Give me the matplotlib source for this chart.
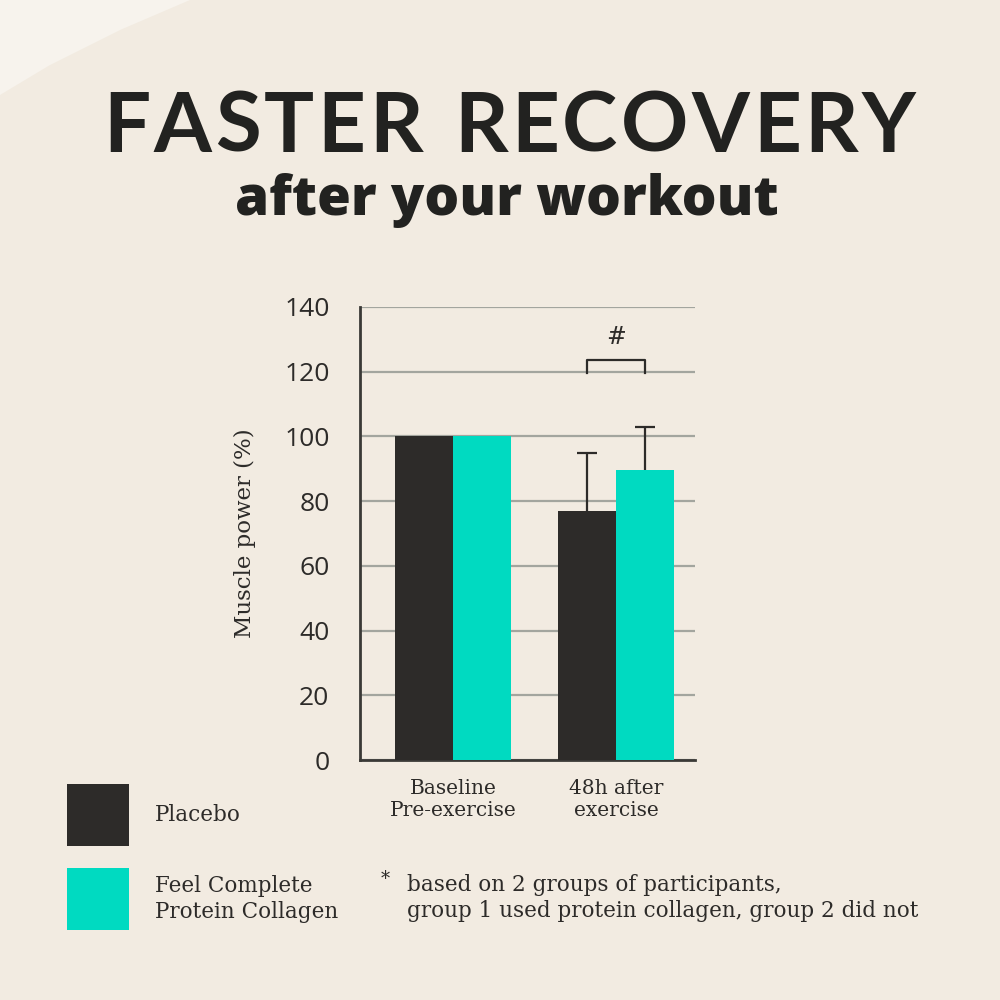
import numpy as np
import matplotlib.pyplot as plt
from matplotlib.patches import Polygon, Rectangle

# data
groups = ['Baseline\nPre-exercise', '48h after\nexercise']
placebo = [100, 77]
collagen = [100, 89.5]
placebo_err = [0, 18]
collagen_err = [0, 13.5]
yticks = [0, 20, 40, 60, 80, 100, 120, 140]
legend_labels = ['Placebo', 'Feel Complete\nProtein Collagen']

bg = '#f2ebe1'
dark = '#2d2b29'
teal = '#00dac1'
grid_c = '#a3a59e'

fig = plt.figure(figsize=(10, 10), dpi=100, facecolor=bg)

# light corner top-left
fig.patches.append(Polygon([[0, 1], [0.19, 1], [0.12, 0.97], [0.05, 0.935], [0, 0.905]],
                           closed=True, transform=fig.transFigure, facecolor='#f7f3ed',
                           edgecolor='none', zorder=0))

# title with letter spacing
def spaced_text(y, s, size, weight, x0, x1, family):
    r = fig.canvas.get_renderer()
    ws = []
    for ch in s:
        t = fig.text(0, 0, ch if ch != ' ' else 'I', fontsize=size, fontweight=weight, family=family)
        bb = t.get_window_extent(renderer=r)
        ws.append(bb.width / 1000)
        t.remove()
    total = sum(ws)
    gap = ((x1 - x0) - total) / (len(s) - 1)
    x = x0
    for ch, w in zip(s, ws):
        if ch != ' ':
            fig.text(x, y, ch, fontsize=size, fontweight=weight, family=family,
                     color='#222220', va='baseline', ha='left')
        x += w + gap

spaced_text(1 - 152 / 1000, 'FASTER RECOVERY', 60, 'bold', 0.103, 0.915, ['Lato', 'DejaVu Sans'])
fig.text(0.5065, 1 - 215 / 1000, 'after your workout', fontsize=39.5, fontweight='extra bold',
         family=['Open Sans', 'DejaVu Sans'], color='#222220', ha='center', va='baseline')

ax = fig.add_axes([0.36, 0.24, 0.335, 0.453])
ax.set_facecolor('none')
x = np.arange(len(groups))
w = 0.356
ax.bar(x - w / 2, placebo, w, color=dark, zorder=3)
ax.bar(x + w / 2, collagen, w, color=teal, zorder=3)

# upper error bars only
cw = 0.06
for xs, vals, errs in [(x - w / 2, placebo, placebo_err), (x + w / 2, collagen, collagen_err)]:
    for xi, v, e in zip(xs, vals, errs):
        if e > 0:
            ax.vlines(xi, v, v + e, color=dark, lw=1.6, zorder=4)
            ax.hlines(v + e, xi - cw, xi + cw, color=dark, lw=1.6, zorder=4)

# significance bracket
bx0, bx1 = x[1] - w / 2, x[1] + w / 2
ax.plot([bx0, bx0, bx1, bx1], [119.5, 123.5, 123.5, 119.5], color=dark, lw=1.6, zorder=4)
ax.text(x[1], 127, '#', ha='center', va='bottom', fontsize=17, family='DejaVu Serif', color=dark)

ax.set_xlim(-0.57, 1.485)
ax.set_ylim(0, 140)
ax.set_yticks(yticks)
ax.yaxis.grid(True, color=grid_c, lw=1.6, zorder=0)
ax.set_axisbelow(True)
ax.tick_params(axis='y', length=0, pad=22, labelsize=19, labelcolor=dark)
for lb in ax.get_yticklabels():
    lb.set_family(['Open Sans', 'DejaVu Sans'])
ax.set_xticks(x)
ax.set_xticklabels(groups, fontsize=14.5, family='DejaVu Serif', color=dark, linespacing=1.15)
ax.tick_params(axis='x', length=0, pad=14)
for s in ['top', 'right']:
    ax.spines[s].set_visible(False)
ax.spines['left'].set_color('#3a3936')
ax.spines['left'].set_linewidth(2)
ax.spines['bottom'].set_color('#3a3936')
ax.spines['bottom'].set_linewidth(2)
ax.set_ylabel('Muscle power (%)', fontsize=16.5, family='DejaVu Serif', color=dark, labelpad=20)

# legend squares
for (y0, c, lab) in [(0.154, dark, legend_labels[0]), (0.07, teal, legend_labels[1])]:
    fig.patches.append(Rectangle((0.067, y0), 0.062, 0.062, transform=fig.transFigure,
                                 facecolor=c, edgecolor='none'))
    fig.text(0.155, y0 + 0.031, lab, fontsize=15.5, family='DejaVu Serif', color=dark,
             va='center', ha='left', linespacing=1.25)

fig.text(0.381, 1 - 0.87, '*', fontsize=13, family='DejaVu Serif', color=dark, va='top')
fig.text(0.407, 1 - 0.898, 'based on 2 groups of participants,\ngroup 1 used protein collagen, group 2 did not',
         fontsize=15.5, family='DejaVu Serif', color=dark, va='center', ha='left', linespacing=1.25)

fig.savefig('out.png', dpi=100, facecolor=bg)
